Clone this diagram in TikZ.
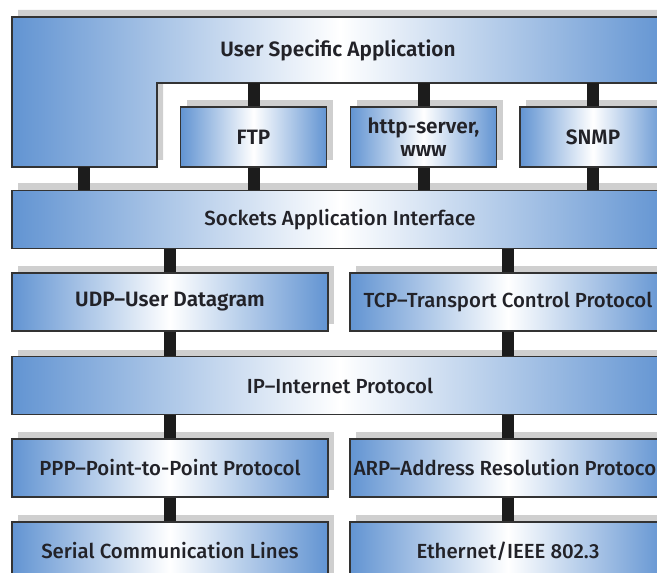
\documentclass[tikz,border=0pt]{standalone}
\usepackage{fontspec}
\IfFontExistsTF{Fira Sans Medium}
  {\setmainfont{Fira Sans Medium}[BoldFont={Fira Sans SemiBold}]}
  {\setmainfont{Fira Sans}}
\usetikzlibrary{shadows}
\definecolor{layerblue}{RGB}{98,148,210}
\definecolor{barblack}{RGB}{28,28,28}
\definecolor{textgray}{RGB}{34,34,40}
\begin{document}
\begin{tikzpicture}[x=0.5pt,y=-0.5pt,
  layer/.style={draw=black!80, line width=0.6pt, left color=layerblue, right color=layerblue, middle color=white,
    drop shadow={shadow xshift=3pt,shadow yshift=3.5pt,fill=black!19,opacity=1},
    text=textgray, font=\fontsize{10.2}{11.5}\selectfont, align=center, inner sep=0pt},
  strong/.style={font=\fontsize{10.4}{11.5}\selectfont\bfseries},
  wide/.style={layer, minimum width=328pt, minimum height=29pt},
  half/.style={layer, minimum width=158pt, minimum height=29pt},
  small/.style={layer, minimum width=73pt, minimum height=30pt},
  bar/.style={draw=barblack, line width=6pt}]
\useasboundingbox (0,0) rectangle (657,572);
\clip (0,0) rectangle (657,572);
\path[layer] (12,17) -- (668,17) -- (668,83) -- (157,83) -- (157,167) -- (12,167) -- cycle;
\node[text=textgray, strong] (app) at (338,50) {User Specific Application};
\coordinate (leg) at (84,167);
\coordinate (foot) at (0,83);
\node[small,strong] (ftp) at (253.5,137) {FTP};
\node[small,strong] (http) at (423.5,137) {http-server,\\www};
\node[small,strong] (snmp) at (593,137) {SNMP};
\node[wide] (sock) at (340,219.5) {Sockets Application Interface};
\node[half,strong] (udp) at (170,302) {UDP--User Datagram};
\node[half] (tcp) at (508,302) {TCP--Transport Control Protocol};
\node[wide] (ip) at (340,385.5) {IP--Internet Protocol};
\node[half] (ppp) at (170,468) {PPP--Point-to-Point Protocol};
\node[half] (arp) at (508,468) {\makebox[0pt]{ARP--Address Resolution Protocol}};
\node[half] (serial) at (170,551) {Serial Communication Lines};
\node[half] (eth) at (508,551) {Ethernet/IEEE 802.3};
\draw[bar] (ftp.north) -- (ftp.north |- foot);
\draw[bar] (http.north) -- (http.north |- foot);
\draw[bar] (snmp.north) -- (snmp.north |- foot);
\draw[bar] (leg) -- (leg |- sock.north);
\draw[bar] (ftp.south) -- (ftp.south |- sock.north);
\draw[bar] (http.south) -- (http.south |- sock.north);
\draw[bar] (snmp.south) -- (snmp.south |- sock.north);
\draw[bar] (udp.north) -- (udp.north |- sock.south);
\draw[bar] (tcp.north) -- (tcp.north |- sock.south);
\draw[bar] (udp.south) -- (udp.south |- ip.north);
\draw[bar] (tcp.south) -- (tcp.south |- ip.north);
\draw[bar] (ppp.north) -- (ppp.north |- ip.south);
\draw[bar] (arp.north) -- (arp.north |- ip.south);
\draw[bar] (ppp.south) -- (serial.north);
\draw[bar] (arp.south) -- (eth.north);
\end{tikzpicture}
\end{document}
